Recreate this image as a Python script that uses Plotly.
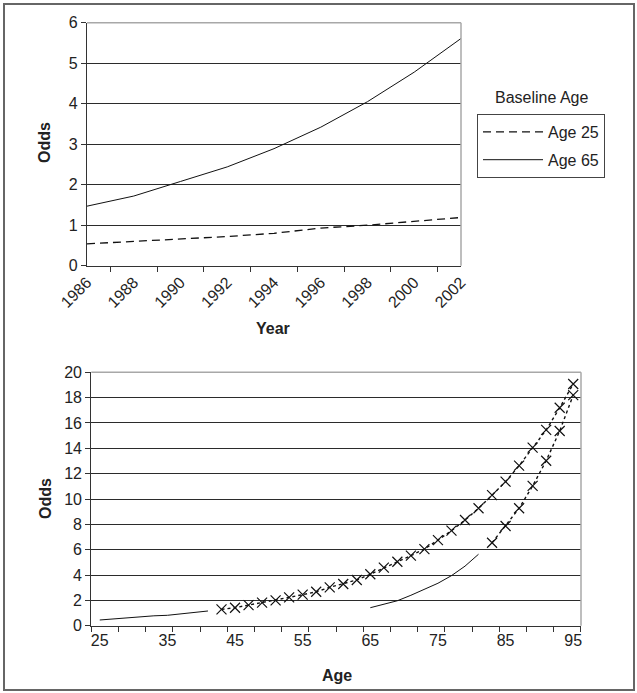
import plotly.graph_objects as go

# --- top chart: odds by survey year ---
years = ["1986", "1988", "1990", "1992", "1994", "1996", "1998", "2000", "2002"]
odds_age25 = [0.54, 0.60, 0.65, 0.72, 0.80, 0.93, 1.00, 1.10, 1.19]
odds_age65 = [1.47, 1.72, 2.08, 2.44, 2.89, 3.42, 4.05, 4.78, 5.61]

# --- bottom chart: odds by age ---
age_obs_young = [25, 28, 31, 33, 35, 38, 41]
odds_obs_young = [0.45, 0.58, 0.66, 0.78, 0.82, 0.98, 1.16]

age_obs_old = [65, 67, 69, 71, 73, 75, 77, 79, 81]
odds_obs_old = [1.42, 1.72, 1.97, 2.40, 2.85, 3.35, 3.95, 4.70, 5.64]

age_proj_young = list(range(43, 96, 2))
odds_proj_young = [1.29, 1.42, 1.63, 1.82, 2.00, 2.24, 2.45, 2.68, 3.03, 3.29,
                   3.61, 4.06, 4.58, 5.05, 5.53, 6.05, 6.76, 7.50, 8.34, 9.27,
                   10.3, 11.37, 12.63, 14.05, 15.45, 17.2, 19.08]

age_proj_old = list(range(83, 96, 2))
odds_proj_old = [6.55, 7.87, 9.27, 11.03, 13.02, 15.37, 18.2]

age_ticks = [25, 35, 45, 55, 65, 75, 85, 95]

W, H = 637, 693
FONT = "Liberation Sans, Arial, sans-serif"
INK = "#222222"
GRID = "#2b2b2b"
EDGE = "#a8a8a8"


def px_x(p):
    return p / W


def px_y(p):
    return 1 - p / H


fig = go.Figure()

# top chart
fig.add_trace(go.Scatter(
    x=years, y=odds_age25, mode="lines", name="Age 25",
    line={"color": "#111", "width": 1.3, "dash": "8px,5px"},
    legendgroup="a25", xaxis="x", yaxis="y",
))
fig.add_trace(go.Scatter(
    x=years, y=odds_age65, mode="lines", name="Age 65",
    line={"color": "#111", "width": 1}, legendgroup="a65", xaxis="x", yaxis="y",
))

# bottom chart
for ages, vals in [(age_obs_young, odds_obs_young), (age_obs_old, odds_obs_old)]:
    fig.add_trace(go.Scatter(
        x=ages, y=vals, mode="lines", showlegend=False,
        line={"color": "#111", "width": 1}, xaxis="x2", yaxis="y2",
    ))
for ages, vals in [(age_proj_young, odds_proj_young), (age_proj_old, odds_proj_old)]:
    fig.add_trace(go.Scatter(
        x=ages, y=vals, mode="lines+markers", showlegend=False,
        line={"color": "#111", "width": 1.4, "dash": "dot"},
        marker={"symbol": "x-thin", "size": 10, "line": {"color": "#111", "width": 1.2}},
        xaxis="x2", yaxis="y2",
    ))

axis_common = dict(
    showline=True, linecolor="#333", linewidth=1.2,
    ticks="outside", ticklen=5, tickcolor="#333",
    tickfont={"size": 16, "color": INK}, zeroline=False, automargin=False,
)

fig.update_layout(
    width=W, height=H,
    margin={"l": 0, "r": 0, "t": 0, "b": 0, "autoexpand": False},
    paper_bgcolor="white", plot_bgcolor="white",
    font={"family": FONT, "size": 16, "color": INK},
    xaxis=dict(
        axis_common, type="category", domain=[px_x(87), px_x(461)],
        tickson="boundaries", tickangle=-45, showgrid=False, anchor="y",
    ),
    yaxis=dict(
        axis_common, domain=[px_y(265.7), px_y(22.7)], range=[0, 6], dtick=1,
        showgrid=True, gridcolor=GRID, gridwidth=1, anchor="x",
    ),
    xaxis2=dict(
        axis_common, domain=[px_x(91.3), px_x(581)], range=[23.75, 96.15],
        tickmode="array", tickvals=age_ticks, ticks="", showgrid=False,
        minor={"tickmode": "linear", "tick0": 23.75, "dtick": 4.022,
               "ticks": "outside", "ticklen": 5, "tickcolor": "#333", "showgrid": False},
        anchor="y2",
    ),
    yaxis2=dict(
        axis_common, domain=[px_y(625.7), px_y(372.3)], range=[0, 20], dtick=2,
        showgrid=True, gridcolor=GRID, gridwidth=1, anchor="x2",
    ),
    legend=dict(
        x=px_x(477), y=px_y(114), xanchor="left", yanchor="top",
        bordercolor="#444", borderwidth=1, bgcolor="white",
        font={"size": 16, "color": INK}, traceorder="grouped", tracegroupgap=4,
        itemwidth=60,
    ),
    showlegend=True,
)

# gray top/right plot borders and outer frame
shapes = []
for xr, yr in [("x", "y"), ("x2", "y2")]:
    shapes.append(dict(type="line", xref=f"{xr} domain", yref=f"{yr} domain",
                       x0=0, x1=1, y0=1, y1=1, line={"color": EDGE, "width": 1.5}, layer="above"))
    shapes.append(dict(type="line", xref=f"{xr} domain", yref=f"{yr} domain",
                       x0=1, x1=1, y0=0, y1=1, line={"color": EDGE, "width": 1.5}, layer="above"))
shapes.append(dict(type="rect", xref="paper", yref="paper",
                   x0=px_x(4), x1=px_x(634), y0=px_y(690), y1=px_y(4),
                   line={"color": "#666", "width": 2}))
fig.update_layout(shapes=shapes)

bold = {"family": FONT, "size": 16, "color": INK}
annotations = [
    dict(text="<b>Odds</b>", x=px_x(45), y=px_y(143), textangle=-90),
    dict(text="<b>Year</b>", x=px_x(273), y=px_y(328)),
    dict(text="<b>Odds</b>", x=px_x(45), y=px_y(499), textangle=-90),
    dict(text="<b>Age</b>", x=px_x(337), y=px_y(675)),
    dict(text="Baseline Age", x=px_x(542), y=px_y(97)),
]
for a in annotations:
    fig.add_annotation(xref="paper", yref="paper", showarrow=False, font=bold,
                       xanchor="center", yanchor="middle", **a)

# the page's default body margin would shift the 637x693 figure out of the window
fig.write_html("out.html", config={"displayModeBar": False},
               post_script="document.body.style.margin = '0';")
